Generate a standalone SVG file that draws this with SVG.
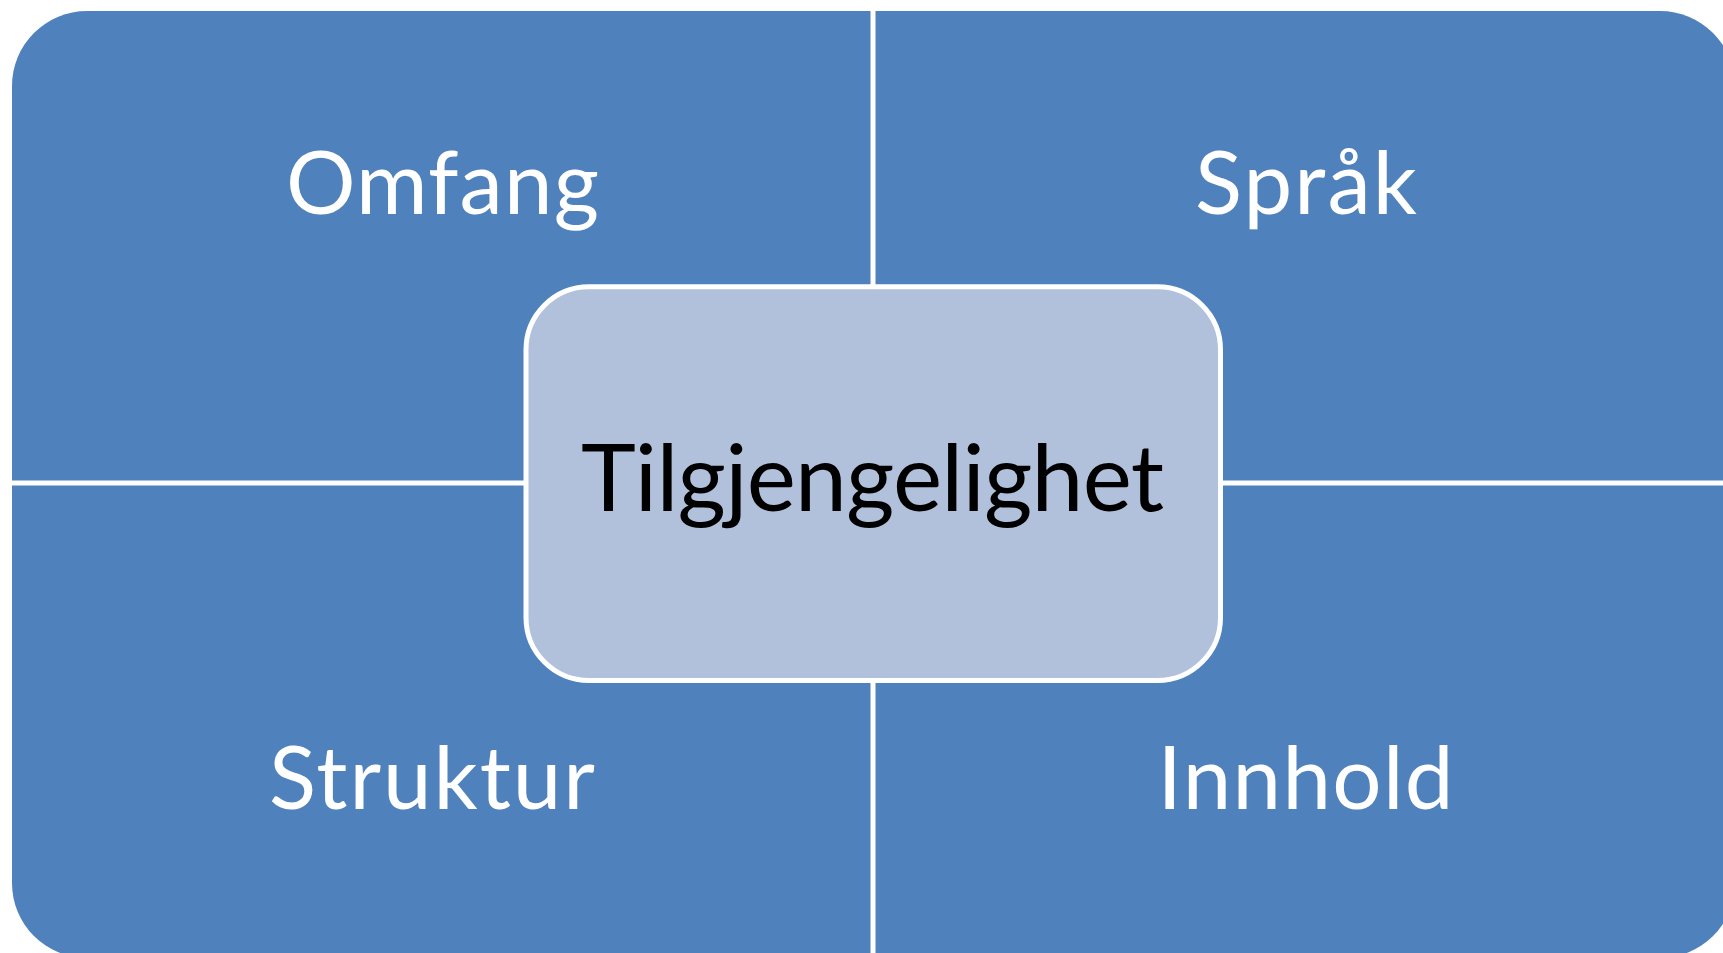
<svg xmlns="http://www.w3.org/2000/svg" width="1723" height="953" viewBox="0 0 1723 953">
<style>
.q{fill:#4F81BD;}
.qt{fill:#FFFFFF;font-family:Lato,"Open Sans","Liberation Sans",sans-serif;font-size:87px;text-anchor:middle;}
.c{fill:#B2C1DB;stroke:#FFFFFF;stroke-width:5;}
.ct{fill:#000000;font-family:Lato,"Open Sans","Liberation Sans",sans-serif;font-size:93px;text-anchor:middle;}
</style>
<rect width="1723" height="953" fill="#FFFFFF"/>
<g id="connectors"></g>
<g id="omfang">
<path class="q" d="M12,86 A75,75 0 0 1 87,11 L870.5,11 L870.5,480.5 L12,480.5 Z"/>
<text class="qt" x="442.5" y="214" textLength="313">Omfang</text>
</g>
<g id="sprak">
<path class="q" d="M875.5,11 L1660,11 A75,75 0 0 1 1735,86 L1735,480.5 L875.5,480.5 Z"/>
<text class="qt" x="1306" y="214" textLength="222">Språk</text>
</g>
<g id="struktur">
<path class="q" d="M12,485.5 L870.5,485.5 L870.5,958 L87,958 A75,75 0 0 1 12,883 Z"/>
<text class="qt" x="432" y="809" textLength="326">Struktur</text>
</g>
<g id="innhold">
<path class="q" d="M875.5,485.5 L1735,485.5 L1735,883 A75,75 0 0 1 1660,958 L875.5,958 Z"/>
<text class="qt" x="1305.6" y="809" textLength="296">Innhold</text>
</g>
<g id="tilgjengelighet">
<rect class="c" x="526" y="286.8" width="694.5" height="393.7" rx="63" ry="63"/>
<text class="ct" x="872.5" y="511" textLength="583">Tilgjengelighet</text>
</g>
</svg>
